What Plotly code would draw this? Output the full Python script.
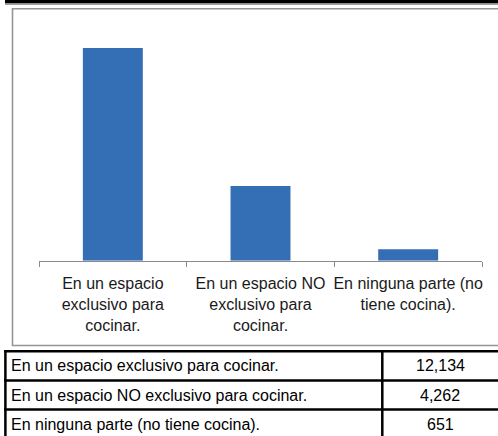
import plotly.graph_objects as go

categories = ["En un espacio exclusivo para cocinar.",
              "En un espacio NO exclusivo para cocinar.",
              "En ninguna parte (no tiene cocina)."]
axis_labels = ["En un espacio<br>exclusivo para<br>cocinar.",
               "En un espacio NO<br>exclusivo para<br>cocinar.",
               "En ninguna parte (no<br>tiene cocina)."]
values = [12134, 4262, 651]
value_labels = ["12,134", "4,262", "651"]

W, H = 498, 436
def px(x):
    return x / W
def py(y):
    return 1 - y / H

FONT = "Liberation Sans, Arial, sans-serif"

fig = go.Figure()
fig.add_trace(go.Bar(
    x=axis_labels, y=values,
    marker=dict(color="#346eb5", line=dict(width=0)),
    hoverinfo="skip",
))

shapes = []
# top black strip (bottom of a previous table)
shapes.append(dict(type="rect", xref="paper", yref="paper",
                   x0=px(5), x1=px(W + 5), y0=py(3.4), y1=py(-2),
                   fillcolor="black", line=dict(width=0), layer="above"))
shapes.append(dict(type="line", xref="paper", yref="paper",
                   x0=px(5), x1=px(W + 5), y0=py(4.2), y1=py(4.2),
                   line=dict(color="#a0a0a0", width=1.5)))
# chart frame
shapes.append(dict(type="rect", xref="paper", yref="paper",
                   x0=px(12.5), x1=px(W + 10), y0=py(345.5), y1=py(8.8),
                   line=dict(color="#959595", width=1.6), layer="below"))

# table grid
row_tops = [351.2, 380.5, 409.6, 438.8]
tbl_left, tbl_sep = 5.4, 382.3
for yv in row_tops:
    shapes.append(dict(type="line", xref="paper", yref="paper",
                       x0=px(tbl_left - 1.2), x1=px(W + 5), y0=py(yv), y1=py(yv),
                       line=dict(color="black", width=2.5)))
for xv in [tbl_left, tbl_sep]:
    shapes.append(dict(type="line", xref="paper", yref="paper",
                       x0=px(xv), x1=px(xv), y0=py(row_tops[0] - 1.2), y1=py(H + 5),
                       line=dict(color="black", width=2.5)))

annotations = []
for i, (cat, lab) in enumerate(zip(categories, value_labels)):
    yc = (row_tops[i] + row_tops[i + 1]) / 2
    annotations.append(dict(xref="paper", yref="paper", x=px(9), y=py(yc),
                            text=cat, showarrow=False, xanchor="left", yanchor="middle",
                            font=dict(family=FONT, size=16, color="black")))
    annotations.append(dict(xref="paper", yref="paper", x=px(440), y=py(yc),
                            text=lab, showarrow=False, xanchor="center", yanchor="middle",
                            font=dict(family=FONT, size=16, color="black")))

fig.update_layout(
    width=W, height=H,
    margin=dict(l=0, r=0, t=0, b=0),
    paper_bgcolor="white", plot_bgcolor="white",
    showlegend=False,
    bargap=0.594,
    shapes=shapes,
    annotations=annotations,
    xaxis=dict(domain=[px(39), px(482)], showline=True, linecolor="#8a8a8a", linewidth=1,
               ticks="outside", tickson="boundaries", ticklen=5, tickcolor="#8a8a8a",
               tickwidth=1, showgrid=False, zeroline=False, ticklabelstandoff=8,
               tickfont=dict(family=FONT, size=16, color="#1a1a1a"), tickangle=0),
    yaxis=dict(domain=[py(260.7), py(15.3)], range=[0, 14000], visible=False,
               showgrid=False, zeroline=False),
)

fig.write_html("out.html",
               config={"displayModeBar": False},
               post_script="document.body.style.margin='0';document.body.style.padding='0';document.body.style.overflow='hidden';")
